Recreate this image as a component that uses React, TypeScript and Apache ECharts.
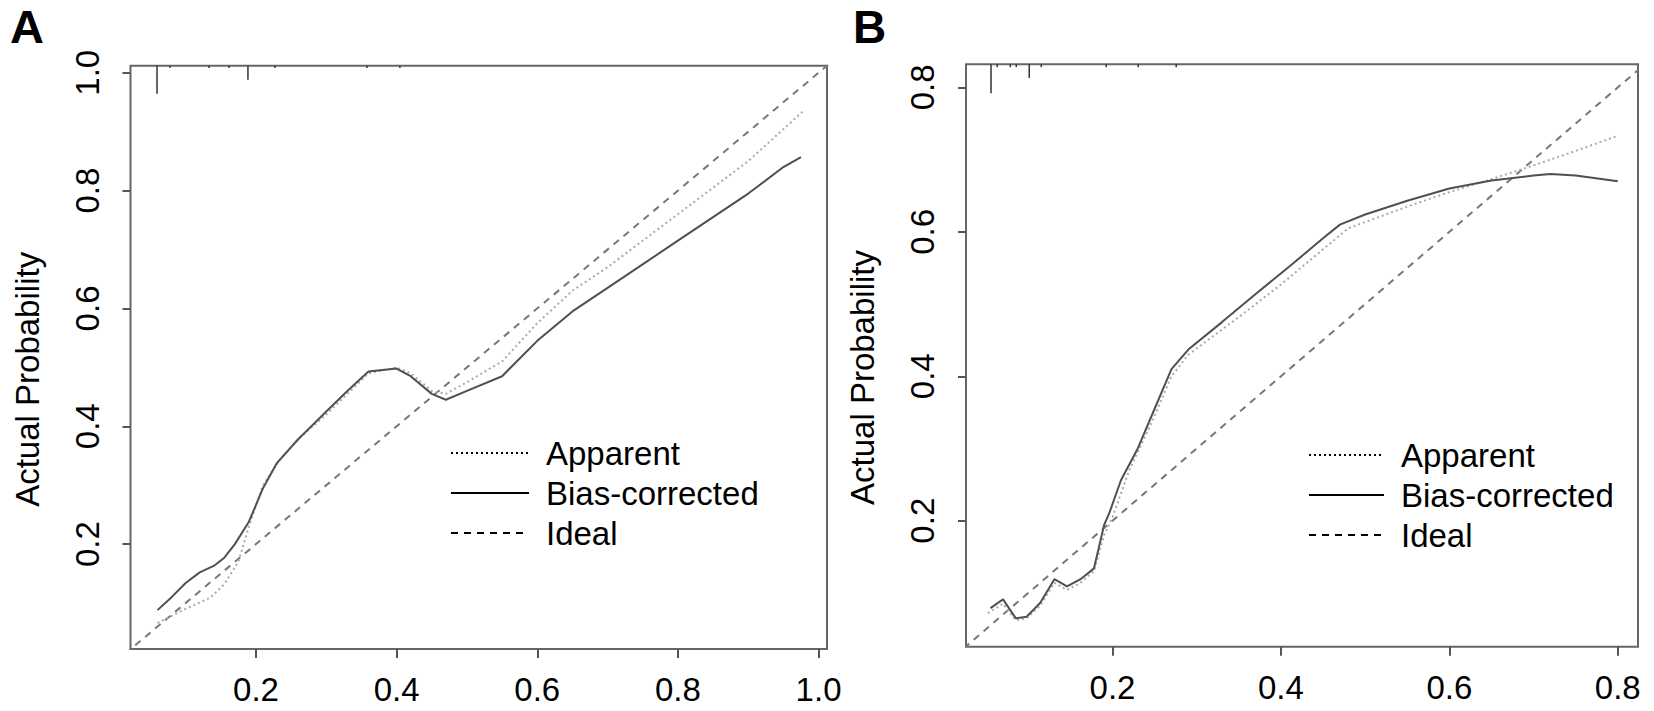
import React, { useEffect, useRef } from "react";
import * as echarts from "echarts";

// ---------- Data ----------
// Panel A
const aBiasX = [0.06, 0.08, 0.10, 0.12, 0.14, 0.155, 0.17, 0.19, 0.21, 0.23, 0.26, 0.30, 0.33, 0.36, 0.40, 0.42, 0.45, 0.47, 0.50, 0.55, 0.60, 0.65, 0.70, 0.80, 0.90, 0.95, 0.975];
const aBiasY = [0.088, 0.11, 0.134, 0.152, 0.163, 0.177, 0.2, 0.238, 0.295, 0.338, 0.378, 0.425, 0.46, 0.493, 0.498, 0.485, 0.455, 0.445, 0.46, 0.485, 0.545, 0.595, 0.635, 0.715, 0.795, 0.84, 0.857];
const aAppX = [0.06, 0.08, 0.10, 0.135, 0.155, 0.175, 0.19, 0.21, 0.235, 0.26, 0.30, 0.33, 0.36, 0.40, 0.42, 0.45, 0.47, 0.50, 0.55, 0.60, 0.65, 0.70, 0.80, 0.90, 0.98];
const aAppY = [0.066, 0.078, 0.09, 0.109, 0.132, 0.17, 0.23, 0.30, 0.345, 0.378, 0.42, 0.455, 0.49, 0.50, 0.49, 0.46, 0.455, 0.475, 0.51, 0.575, 0.63, 0.67, 0.76, 0.85, 0.937];
const aRugX = [0.0593, 0.0777, 0.1333, 0.1617, 0.1886, 0.227, 0.3578, 0.4047];
const aRugH = [0.0475, 0.004, 0.004, 0.004, 0.024, 0.004, 0.004, 0.004];

// Panel B
const bBiasX = [0.055, 0.07, 0.085, 0.098, 0.114, 0.131, 0.146, 0.162, 0.178, 0.19, 0.196, 0.21, 0.23, 0.25, 0.27, 0.29, 0.33, 0.37, 0.41, 0.45, 0.47, 0.50, 0.55, 0.60, 0.65, 0.70, 0.72, 0.75, 0.80];
const bBiasY = [0.079, 0.091, 0.065, 0.067, 0.086, 0.119, 0.109, 0.119, 0.134, 0.194, 0.21, 0.256, 0.30, 0.355, 0.41, 0.437, 0.475, 0.514, 0.552, 0.591, 0.61, 0.624, 0.643, 0.66, 0.671, 0.678, 0.68, 0.678, 0.67];
const bAppX = [0.052, 0.07, 0.085, 0.098, 0.114, 0.131, 0.146, 0.162, 0.178, 0.19, 0.20, 0.22, 0.25, 0.27, 0.29, 0.35, 0.40, 0.48, 0.55, 0.60, 0.65, 0.70, 0.75, 0.80];
const bAppY = [0.072, 0.085, 0.062, 0.065, 0.082, 0.114, 0.104, 0.114, 0.13, 0.18, 0.205, 0.27, 0.345, 0.40, 0.43, 0.482, 0.527, 0.605, 0.635, 0.655, 0.673, 0.692, 0.712, 0.733];
const bRugX = [0.0557, 0.0631, 0.0786, 0.0857, 0.1011, 0.1154, 0.1925, 0.2305, 0.2756];
const bRugH = [0.04, 0.004, 0.004, 0.004, 0.019, 0.004, 0.004, 0.004, 0.004];

const idealLine = [[0, 0], [1.1, 1.1]];

const aTicks = [0.2, 0.4, 0.6, 0.8, 1.0];
const bTicks = [0.2, 0.4, 0.6, 0.8];
const legendNames = ["Apparent", "Bias-corrected", "Ideal"];

// axis ranges
const A_X = [0.0216, 1.012];
const A_Y = [0.022, 1.012];
const B_X = [0.026, 0.824];
const B_Y = [0.0255, 0.832];

const FONT = "'Liberation Sans', Arial, Helvetica, sans-serif";

const zip = (xs: number[], ys: number[]) => xs.map((x, i) => [x, ys[i]]);

function makeAxes(idx: number, xr: number[], yr: number[], ticks: number[]) {
  const fmt = (v: number) => v.toFixed(1);
  const x = {
    type: "value",
    gridIndex: idx,
    min: xr[0],
    max: xr[1],
    splitLine: { show: false },
    axisLine: { show: false },
    axisTick: { show: true, length: 9, customValues: ticks, lineStyle: { color: "#555", width: 2 } },
    axisLabel: { customValues: ticks, formatter: fmt, fontSize: 33, color: "#000", fontFamily: FONT, margin: 24 },
  };
  const y = {
    type: "value",
    gridIndex: idx,
    min: yr[0],
    max: yr[1],
    name: "Actual Probability",
    nameLocation: "middle",
    nameRotate: 90,
    nameGap: 87,
    nameTextStyle: { fontSize: 33, color: "#000", fontFamily: FONT, padding: [0, 44, 0, 0] },
    splitLine: { show: false },
    axisLine: { show: false },
    axisTick: { show: true, length: 8, customValues: ticks, lineStyle: { color: "#555", width: 2 } },
    axisLabel: { customValues: ticks, formatter: fmt, rotate: 90, fontSize: 33, color: "#000", fontFamily: FONT, margin: 27 },
  };
  return { x, y };
}

function makeSeries(idx: number, bias: number[][], app: number[][], rug: number[][], yTop: number) {
  return [
    {
      type: "custom",
      name: "rug" + idx,
      xAxisIndex: idx,
      yAxisIndex: idx,
      data: rug,
      encode: { x: 0, y: 1 },
      silent: true,
      renderItem: (params: any, api: any) => {
        const xv = api.value(0);
        const h = api.value(1);
        const p1 = api.coord([xv, yTop]);
        const p2 = api.coord([xv, yTop - h]);
        return {
          type: "line",
          shape: { x1: p1[0], y1: p1[1], x2: p2[0], y2: p2[1] },
          style: { stroke: "#333", lineWidth: 1.5 },
        };
      },
    },
    {
      type: "line",
      name: "Ideal",
      xAxisIndex: idx,
      yAxisIndex: idx,
      data: idealLine,
      symbol: "none",
      clip: true,
      color: "#777",
      lineStyle: { color: "#777", width: 2, type: [7, 6] },
    },
    {
      type: "line",
      name: "Apparent",
      xAxisIndex: idx,
      yAxisIndex: idx,
      data: app,
      symbol: "none",
      clip: true,
      color: "#aaa",
      lineStyle: { color: "#aaa", width: 2, type: [2, 3] },
    },
    {
      type: "line",
      name: "Bias-corrected",
      xAxisIndex: idx,
      yAxisIndex: idx,
      data: bias,
      symbol: "none",
      clip: true,
      color: "#505050",
      lineStyle: { color: "#505050", width: 2, type: "solid" },
    },
  ];
}

function makeLegend(left: number, top: number, w: number) {
  return {
    data: legendNames,
    orient: "vertical",
    left,
    top,
    padding: 0,
    itemWidth: w,
    itemHeight: 14,
    itemGap: 6,
    selectedMode: false,
    itemStyle: { opacity: 0 },
    lineStyle: { color: "#000", width: 2 },
    textStyle: { fontSize: 33, color: "#000", fontFamily: FONT, lineHeight: 34, padding: [0, 0, 0, 12] },
  };
}

export default function App() {
  const ref = useRef<HTMLDivElement>(null);
  useEffect(() => {
    if (!ref.current) return;
    const chart = echarts.init(ref.current, undefined, { renderer: "svg" });
    const axA = makeAxes(0, A_X, A_Y, aTicks);
    const axB = makeAxes(1, B_X, B_Y, bTicks);
    const option = {
      animation: false,
      backgroundColor: "#fff",
      textStyle: { fontFamily: FONT },
      grid: [
        { left: 130.5, top: 65.7, width: 696.5, height: 583.3, show: true, borderColor: "#666", borderWidth: 2, backgroundColor: "transparent" },
        { left: 966, top: 64.3, width: 672, height: 582.4, show: true, borderColor: "#666", borderWidth: 2, backgroundColor: "transparent" },
      ],
      xAxis: [axA.x, axB.x],
      yAxis: [axA.y, axB.y],
      legend: [makeLegend(450, 436, 78), makeLegend(1308, 438, 75)],
      graphic: [
        { type: "text", left: 10, top: 3, style: { text: "A", fontSize: 47, fontWeight: "bold", fill: "#000", fontFamily: FONT } },
        { type: "text", left: 853, top: 4, style: { text: "B", fontSize: 46, fontWeight: "bold", fill: "#000", fontFamily: FONT } },
      ],
      series: [
        ...makeSeries(0, zip(aBiasX, aBiasY), zip(aAppX, aAppY), zip(aRugX, aRugH), A_Y[1]),
        ...makeSeries(1, zip(bBiasX, bBiasY), zip(bAppX, bAppY), zip(bRugX, bRugH), B_Y[1]),
      ],
    };
    chart.setOption(option as any);
    return () => chart.dispose();
  }, []);
  return (
    <div
      ref={ref}
      style={{ position: "fixed", left: 0, top: 0, width: 1654, height: 711, background: "#fff" }}
    />
  );
}
